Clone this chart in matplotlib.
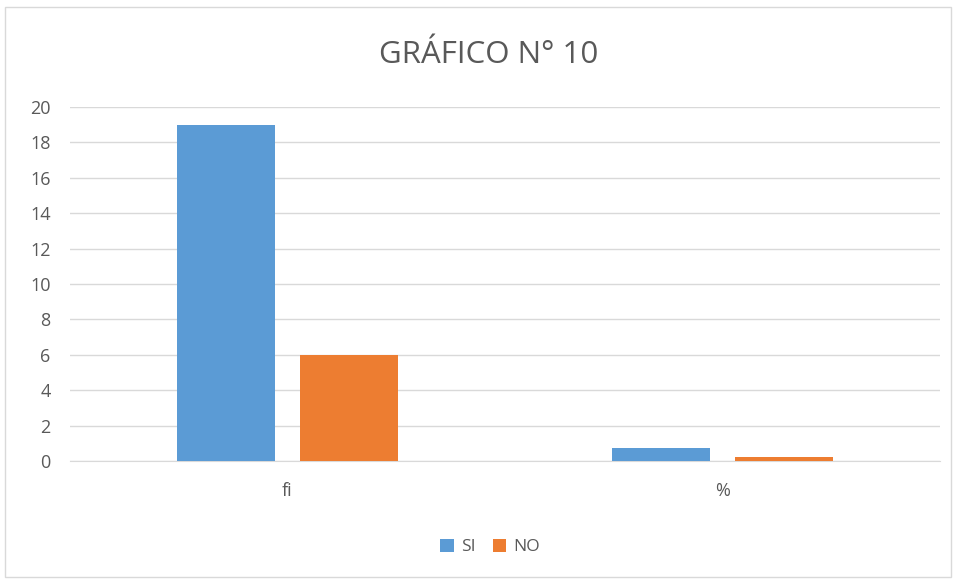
import matplotlib
matplotlib.use("Agg")
import matplotlib.pyplot as plt
import numpy as np
from matplotlib.patches import Rectangle

categories = ["fi", "%"]
si_values = [19, 0.76]
no_values = [6, 0.24]
series_names = ["SI", "NO"]
yticks = [0, 2, 4, 6, 8, 10, 12, 14, 16, 18, 20]

plt.rcParams['font.family'] = ['Open Sans', 'DejaVu Sans']

fig = plt.figure(figsize=(9.57, 5.8), dpi=100)
ax = fig.add_axes([70/957, 1-461/580, 870/957, 354/580])

x = np.arange(len(categories))
w = 0.225
off = 0.142
ax.bar(x - off, si_values, w, color="#5B9BD5", label=series_names[0], zorder=3)
ax.bar(x + off, no_values, w, color="#ED7D31", label=series_names[1], zorder=3)

ax.set_xlim(-0.5, 1.5)
ax.set_ylim(0, 20)
ax.set_yticks(yticks)
ax.set_xticks(x)
ax.set_xticklabels(categories)
ax.grid(axis='y', color="#D9D9D9", linewidth=1, zorder=0)
for s in ["top", "right", "left"]:
    ax.spines[s].set_visible(False)
ax.spines["bottom"].set_color("#D9D9D9")
ax.tick_params(axis='both', length=0, colors="#595959", labelsize=13)
ax.tick_params(axis='x', pad=15)
ax.tick_params(axis='y', pad=14)

fig.text(0.511, 1-55/580, "GRÁFICO N° 10", ha='center', va='center', fontsize=22.5, color="#595959")

leg = fig.legend(loc='center', bbox_to_anchor=(0.512, 1-547/580), ncol=2, frameon=False,
                 fontsize=12.5, handlelength=0.8, handleheight=0.8, handletextpad=0.4, columnspacing=1.0)
for t in leg.get_texts():
    t.set_color("#595959")

fig.patches.append(Rectangle((5/957, 3/580), 946/957, 570/580, transform=fig.transFigure,
                             fill=False, edgecolor="#D9D9D9", linewidth=1))

fig.savefig("out.png", dpi=100)
